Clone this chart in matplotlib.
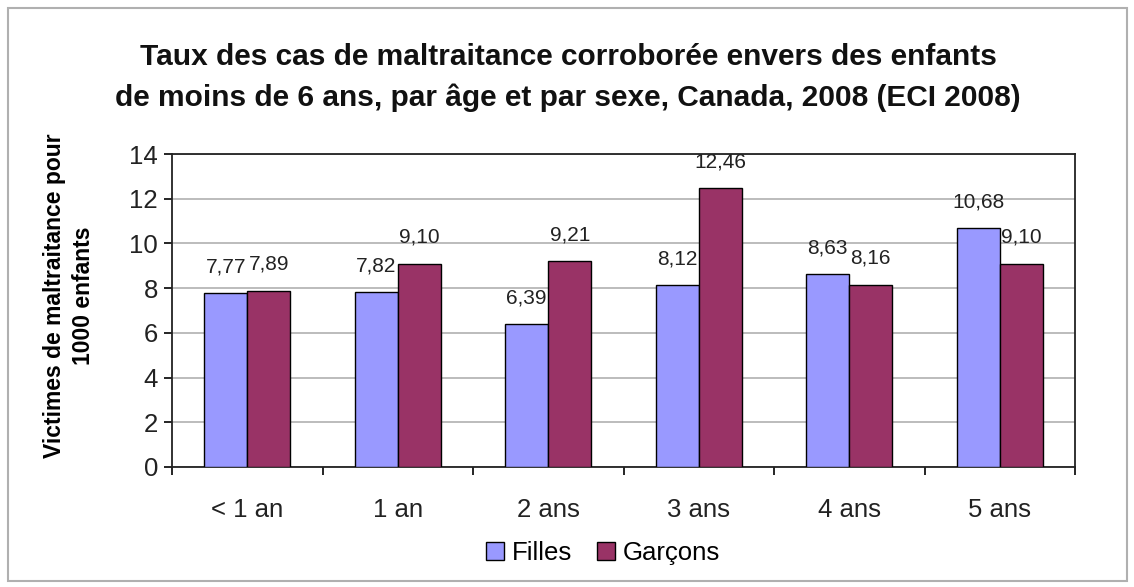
import matplotlib
matplotlib.use("Agg")
import matplotlib.pyplot as plt
import numpy as np
from matplotlib.patches import Rectangle

categories = ["< 1 an", "1 an", "2 ans", "3 ans", "4 ans", "5 ans"]
filles = [7.77, 7.82, 6.39, 8.12, 8.63, 10.68]
garcons = [7.89, 9.10, 9.21, 12.46, 8.16, 9.10]
filles_labels = ["7,77", "7,82", "6,39", "8,12", "8,63", "10,68"]
garcons_labels = ["7,89", "9,10", "9,21", "12,46", "8,16", "9,10"]
yticks = [0, 2, 4, 6, 8, 10, 12, 14]

plt.rcParams['font.family'] = ['Liberation Sans', 'DejaVu Sans']

W, H = 1134, 587
fig = plt.figure(figsize=(W/100, H/100), dpi=100)
fig.patch.set_facecolor('white')
fig.patches.append(Rectangle((8/W, 6/H), 1119/W, 573/H, transform=fig.transFigure,
                             fill=False, edgecolor='#b0b0b0', lw=1.5))

l, r, t, b = 172, 1075, 154, 467
ax = fig.add_axes([l/W, 1-b/H, (r-l)/W, (b-t)/H])
x = np.arange(len(categories))
bw = 0.286
ax.bar(x - bw/2, filles, bw, color='#9999FF', edgecolor='black', lw=1, label='Filles', zorder=3)
ax.bar(x + bw/2, garcons, bw, color='#993366', edgecolor='black', lw=1, label='Garçons', zorder=3)

for i in range(len(categories)):
    ax.annotate(filles_labels[i], (x[i] - bw/2, filles[i]), xytext=(0, 19), textcoords='offset points',
                ha='center', va='center', fontsize=15, color='#222222', zorder=5)
    ax.annotate(garcons_labels[i], (x[i] + bw/2, garcons[i]), xytext=(0, 19), textcoords='offset points',
                ha='center', va='center', fontsize=15, color='#222222', zorder=5)

ax.set_xlim(-0.5, len(categories) - 0.5)
ax.set_ylim(0, 14)
ax.set_yticks(yticks)
ax.set_yticklabels([str(v) for v in yticks], fontsize=18.5, color='#222222')
ax.yaxis.grid(True, color='#b0b0b0', lw=1.2, zorder=0)
ax.set_axisbelow(True)
ax.set_xticks(np.arange(len(categories) + 1) - 0.5)
ax.set_xticklabels([])
ax.set_xticks(x, minor=True)
ax.set_xticklabels(categories, minor=True, fontsize=18.5, color='#222222')
ax.tick_params(axis='x', which='minor', length=0, pad=22)
ax.tick_params(axis='x', which='major', length=6, width=1.2, direction='out')
ax.tick_params(axis='y', length=6, width=1.2, direction='out', pad=4)
for s in ax.spines.values():
    s.set_linewidth(1.3)
    s.set_color('#222222')

fig.text(568/W, 1-57/H, "Taux des cas de maltraitance corroborée envers des enfants",
         ha='center', va='center', fontsize=21.5, fontweight='bold', color='#111111')
fig.text(568/W, 1-98/H, "de moins de 6 ans, par âge et par sexe, Canada, 2008 (ECI 2008)",
         ha='center', va='center', fontsize=21.5, fontweight='bold', color='#111111')
fig.text(69/W, 1-296/H, "Victimes de maltraitance pour\n1000 enfants", rotation=90,
         ha='center', va='center', fontsize=16.5, fontweight='bold', linespacing=1.3)

leg = fig.legend(loc='center', bbox_to_anchor=(603/W, 1-553/H), ncol=2, frameon=False,
                 fontsize=18.5, handlelength=0.7, handleheight=0.7, handletextpad=0.3,
                 columnspacing=1.0)

fig.savefig("out.png", dpi=100)
